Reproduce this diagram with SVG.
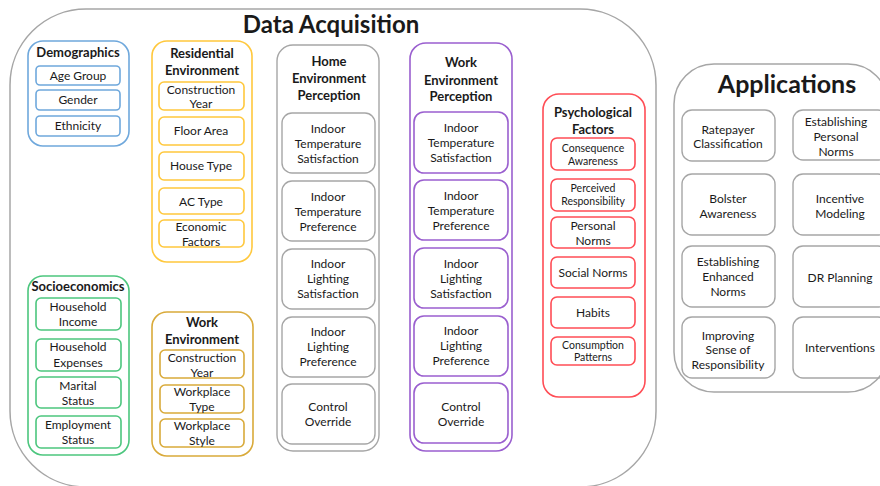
<svg xmlns="http://www.w3.org/2000/svg" width="880" height="486" viewBox="0 0 880 486">
  <style>
    text { font-family: Lato, "Open Sans", "Liberation Sans", sans-serif; fill: #1a1a1a; text-anchor: middle; }
    .t { font-size: 12px; }
    .ts { font-size: 10.5px; }
    .h { font-size: 13px; font-weight: bold; }
    .big { font-size: 24px; font-weight: bold; }
    .frame { fill: #fff; stroke: #a6a6a6; stroke-width: 1.5; }
    .blue { fill: none; stroke: #6fa8dc; stroke-width: 1.6; }
    .yellow { fill: none; stroke: #ffc83d; stroke-width: 1.6; }
    .green { fill: none; stroke: #4cc67e; stroke-width: 1.6; }
    .gold { fill: none; stroke: #d9aa3a; stroke-width: 1.6; }
    .gray { fill: none; stroke: #a6a6a6; stroke-width: 1.4; }
    .purple { fill: none; stroke: #9a5fcf; stroke-width: 1.6; }
    .red { fill: none; stroke: #ff4d55; stroke-width: 1.6; }
  </style>
  <rect width="880" height="486" fill="#fff"/>

  <!-- Data acquisition frame -->
  <g id="data-acquisition">
    <rect class="frame" x="10" y="9" width="646" height="478" rx="76"/>
    <text class="big" x="331" y="33">Data Acquisition</text>
  </g>

  <!-- Applications frame -->
  <g id="applications">
    <rect class="frame" x="674" y="64" width="214" height="328" rx="40"/>
    <text class="big" x="787" y="93" style="font-size:25px">Applications</text>
  </g>

  <!-- Demographics -->
  <g id="demographics">
    <rect class="blue" x="28" y="41" width="101" height="105" rx="15"/>
    <text class="h" x="78" y="57">Demographics</text>
    <rect class="blue" x="36" y="66" width="84" height="19" rx="4"/>
    <text class="t" x="78" y="80">Age Group</text>
    <rect class="blue" x="36" y="90" width="84" height="20" rx="4"/>
    <text class="t" x="78" y="104">Gender</text>
    <rect class="blue" x="36" y="116" width="84" height="20" rx="4"/>
    <text class="t" x="78" y="130">Ethnicity</text>
  </g>

  <!-- Residential environment -->
  <g id="residential-environment">
    <rect class="yellow" x="152" y="41" width="100" height="221" rx="15"/>
    <text class="h" x="202" y="58">Residential</text>
    <text class="h" x="202" y="75">Environment</text>
    <rect class="yellow" x="159" y="82" width="85" height="28" rx="5"/>
    <text class="t" x="201" y="94">Construction</text>
    <text class="t" x="201" y="108">Year</text>
    <rect class="yellow" x="159" y="117" width="85" height="28" rx="5"/>
    <text class="t" x="201" y="135">Floor Area</text>
    <rect class="yellow" x="159" y="152" width="85" height="28" rx="5"/>
    <text class="t" x="201" y="170">House Type</text>
    <rect class="yellow" x="159" y="188" width="85" height="26" rx="5"/>
    <text class="t" x="201" y="206">AC Type</text>
    <rect class="yellow" x="159" y="220" width="85" height="27" rx="5"/>
    <text class="t" x="201" y="231">Economic</text>
    <text class="t" x="201" y="246">Factors</text>
  </g>

  <!-- Socioeconomics -->
  <g id="socioeconomics">
    <rect class="green" x="28" y="276" width="101" height="179" rx="15"/>
    <text class="h" x="78" y="291">Socioeconomics</text>
    <rect class="green" x="36" y="298" width="85" height="32" rx="5"/>
    <text class="t" x="78" y="311">Household</text>
    <text class="t" x="78" y="326">Income</text>
    <rect class="green" x="36" y="339" width="85" height="32" rx="5"/>
    <text class="t" x="78" y="351">Household</text>
    <text class="t" x="78" y="367">Expenses</text>
    <rect class="green" x="36" y="377" width="85" height="31" rx="5"/>
    <text class="t" x="78" y="390">Marital</text>
    <text class="t" x="78" y="405">Status</text>
    <rect class="green" x="36" y="416" width="85" height="32" rx="5"/>
    <text class="t" x="78" y="429">Employment</text>
    <text class="t" x="78" y="444">Status</text>
  </g>

  <!-- Work environment -->
  <g id="work-environment">
    <rect class="gold" x="152" y="312" width="101" height="144" rx="15"/>
    <text class="h" x="202" y="327">Work</text>
    <text class="h" x="202" y="344">Environment</text>
    <rect class="gold" x="160" y="350" width="84" height="28" rx="5"/>
    <text class="t" x="202" y="362">Construction</text>
    <text class="t" x="202" y="377">Year</text>
    <rect class="gold" x="160" y="385" width="84" height="28" rx="5"/>
    <text class="t" x="202" y="396">Workplace</text>
    <text class="t" x="202" y="411">Type</text>
    <rect class="gold" x="160" y="419" width="84" height="28" rx="5"/>
    <text class="t" x="202" y="430">Workplace</text>
    <text class="t" x="202" y="445">Style</text>
  </g>

  <!-- Home environment perception -->
  <g id="home-environment-perception">
    <rect class="gray" x="277" y="45" width="102" height="406" rx="16"/>
    <text class="h" x="329" y="66">Home</text>
    <text class="h" x="329" y="83">Environment</text>
    <text class="h" x="329" y="100">Perception</text>
    <rect class="gray" x="282" y="113" width="93" height="60" rx="10"/>
    <text class="t" x="328" y="133">Indoor</text>
    <text class="t" x="328" y="148">Temperature</text>
    <text class="t" x="328" y="163">Satisfaction</text>
    <rect class="gray" x="282" y="181" width="93" height="60" rx="10"/>
    <text class="t" x="328" y="201">Indoor</text>
    <text class="t" x="328" y="216">Temperature</text>
    <text class="t" x="328" y="231">Preference</text>
    <rect class="gray" x="282" y="249" width="93" height="60" rx="10"/>
    <text class="t" x="328" y="268">Indoor</text>
    <text class="t" x="328" y="283">Lighting</text>
    <text class="t" x="328" y="298">Satisfaction</text>
    <rect class="gray" x="282" y="317" width="93" height="60" rx="10"/>
    <text class="t" x="328" y="336">Indoor</text>
    <text class="t" x="328" y="351">Lighting</text>
    <text class="t" x="328" y="366">Preference</text>
    <rect class="gray" x="282" y="384" width="93" height="60" rx="10"/>
    <text class="t" x="328" y="411">Control</text>
    <text class="t" x="328" y="426">Override</text>
  </g>

  <!-- Work environment perception -->
  <g id="work-environment-perception">
    <rect class="purple" x="410" y="43" width="102" height="408" rx="16"/>
    <text class="h" x="461" y="67">Work</text>
    <text class="h" x="461" y="85">Environment</text>
    <text class="h" x="461" y="101">Perception</text>
    <rect class="purple" x="414" y="112" width="94" height="61" rx="10"/>
    <text class="t" x="461" y="132">Indoor</text>
    <text class="t" x="461" y="147">Temperature</text>
    <text class="t" x="461" y="162">Satisfaction</text>
    <rect class="purple" x="414" y="180" width="94" height="60" rx="10"/>
    <text class="t" x="461" y="200">Indoor</text>
    <text class="t" x="461" y="215">Temperature</text>
    <text class="t" x="461" y="230">Preference</text>
    <rect class="purple" x="414" y="248" width="94" height="60" rx="10"/>
    <text class="t" x="461" y="268">Indoor</text>
    <text class="t" x="461" y="283">Lighting</text>
    <text class="t" x="461" y="298">Satisfaction</text>
    <rect class="purple" x="414" y="316" width="94" height="60" rx="10"/>
    <text class="t" x="461" y="335">Indoor</text>
    <text class="t" x="461" y="350">Lighting</text>
    <text class="t" x="461" y="365">Preference</text>
    <rect class="purple" x="414" y="383" width="94" height="60" rx="10"/>
    <text class="t" x="461" y="411">Control</text>
    <text class="t" x="461" y="426">Override</text>
  </g>

  <!-- Psychological factors -->
  <g id="psychological-factors">
    <rect class="red" x="543" y="94" width="102" height="303" rx="16"/>
    <text class="h" x="593" y="117">Psychological</text>
    <text class="h" x="593" y="134">Factors</text>
    <rect class="red" x="551" y="138" width="84" height="32" rx="6"/>
    <text class="ts" x="593" y="152">Consequence</text>
    <text class="ts" x="593" y="165">Awareness</text>
    <rect class="red" x="551" y="179" width="84" height="32" rx="6"/>
    <text class="ts" x="593" y="192">Perceived</text>
    <text class="ts" x="593" y="205">Responsibility</text>
    <rect class="red" x="551" y="217" width="84" height="31" rx="6"/>
    <text class="t" x="593" y="230">Personal</text>
    <text class="t" x="593" y="245">Norms</text>
    <rect class="red" x="551" y="257" width="84" height="31" rx="6"/>
    <text class="t" x="593" y="277">Social Norms</text>
    <rect class="red" x="551" y="297" width="84" height="31" rx="6"/>
    <text class="t" x="593" y="317">Habits</text>
    <rect class="red" x="551" y="337" width="84" height="28" rx="6"/>
    <text class="ts" x="593" y="349">Consumption</text>
    <text class="ts" x="593" y="361">Patterns</text>
  </g>

  <!-- Application items -->
  <g id="ratepayer-classification">
    <rect class="gray" x="682" y="110" width="93" height="51" rx="10"/>
    <text class="t" x="728" y="134">Ratepayer</text>
    <text class="t" x="728" y="148">Classification</text>
  </g>
  <g id="establishing-personal-norms">
    <rect class="gray" x="793" y="110" width="95" height="50" rx="10"/>
    <text class="t" x="836" y="126">Establishing</text>
    <text class="t" x="836" y="141">Personal</text>
    <text class="t" x="836" y="156">Norms</text>
  </g>
  <g id="bolster-awareness">
    <rect class="gray" x="682" y="174" width="93" height="61" rx="10"/>
    <text class="t" x="728" y="203">Bolster</text>
    <text class="t" x="728" y="218">Awareness</text>
  </g>
  <g id="incentive-modeling">
    <rect class="gray" x="793" y="174" width="95" height="61" rx="10"/>
    <text class="t" x="840" y="203">Incentive</text>
    <text class="t" x="840" y="218">Modeling</text>
  </g>
  <g id="establishing-enhanced-norms">
    <rect class="gray" x="682" y="246" width="93" height="61" rx="10"/>
    <text class="t" x="728" y="266">Establishing</text>
    <text class="t" x="728" y="281">Enhanced</text>
    <text class="t" x="728" y="296">Norms</text>
  </g>
  <g id="dr-planning">
    <rect class="gray" x="793" y="246" width="95" height="61" rx="10"/>
    <text class="t" x="840" y="282">DR Planning</text>
  </g>
  <g id="improving-sense-of-responsibility">
    <rect class="gray" x="682" y="317" width="93" height="61" rx="10"/>
    <text class="t" x="728" y="340">Improving</text>
    <text class="t" x="728" y="354">Sense of</text>
    <text class="t" x="728" y="369">Responsibility</text>
  </g>
  <g id="interventions">
    <rect class="gray" x="793" y="317" width="95" height="61" rx="10"/>
    <text class="t" x="840" y="352">Interventions</text>
  </g>

  <!-- no connectors in this figure -->
  <g id="connectors"/>
</svg>
